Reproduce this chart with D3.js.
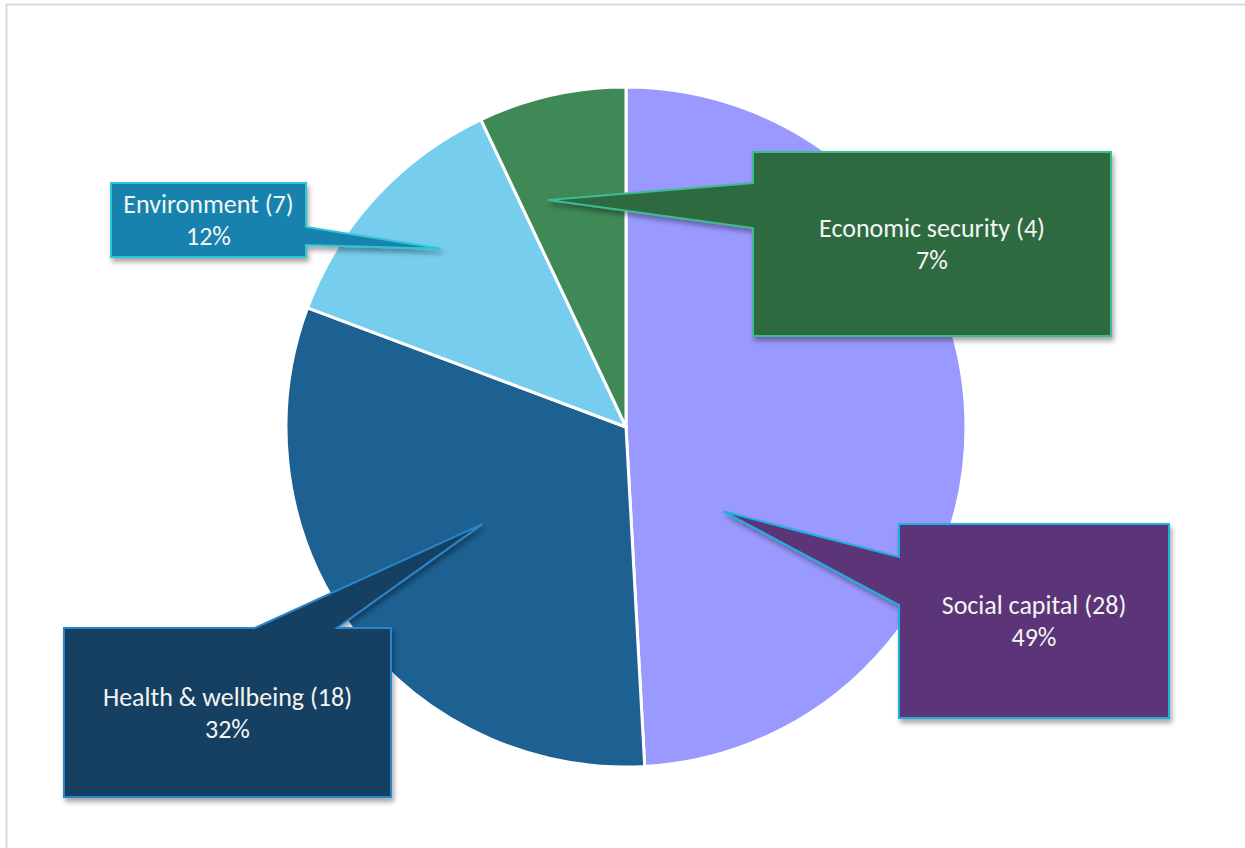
<!DOCTYPE html>
<html>
<head>
<meta charset="utf-8">
<script src="https://cdn.jsdelivr.net/npm/d3@7"></script>
<style>
  html, body { margin: 0; padding: 0; background: #fff; }
  svg { display: block; }
  .label { font-family: Carlito, Calibri, Lato, "Open Sans", sans-serif; font-size: 26px; fill: #f4f4f4; }
</style>
</head>
<body>
<svg id="chart" width="1245" height="848"></svg>
<script>
// Number of initiatives per outcome area
const categories = ["Social capital", "Health & wellbeing", "Environment", "Economic security"];
const counts = [28, 18, 7, 4];

// Slice and callout styling
const sliceFill = ["#9a99ff", "#1d6192", "#77cdee", "#3f8956"];
const boxFill   = ["#5c3579", "#164162", "#1782ad", "#2e6a3f"];
const boxStroke = ["#1fb0e0", "#2a86cc", "#2cc6d4", "#3dbb93"];

// Callout geometry: box edges, which side carries the pointer, where the pointer
// leaves the box, and where it lands inside its slice (fraction of the slice's
// angular span and of the radius).
const callouts = [
  { box: [899, 524, 1169, 718], side: "left",  base: [557, 605], at: 0.74, rad: 0.38 },
  { box: [64, 628, 391, 797],   side: "top",   base: [255, 337], at: 0.52, rad: 0.51 },
  { box: [111, 183, 306, 257],  side: "right", base: [227, 245], at: 0.53, rad: 0.755 },
  { box: [753, 152, 1111, 336], side: "left",  base: [183, 228], at: 0.25, rad: 0.706 }
];

const svg = d3.select("#chart");
const W = 1245, H = 848;
const cx = 626, cy = 427, R = 340;

// drop shadow for the callouts
const defs = svg.append("defs");
const f = defs.append("filter").attr("id", "shadow")
  .attr("x", "-20%").attr("y", "-20%").attr("width", "140%").attr("height", "140%");
f.append("feDropShadow").attr("dx", 2).attr("dy", 4).attr("stdDeviation", 2.5)
  .attr("flood-color", "#000").attr("flood-opacity", 0.35);

// outer frame
svg.append("rect")
  .attr("x", 6.5).attr("y", 4.5).attr("width", W + 10).attr("height", H + 10)
  .attr("fill", "none").attr("stroke", "#d9d9d9").attr("stroke-width", 2);

const total = d3.sum(counts);
const pct = d3.format(".0%");

const pie = d3.pie().sort(null).value(d => d)(counts);
const arc = d3.arc().innerRadius(0).outerRadius(R);

const g = svg.append("g").attr("transform", `translate(${cx},${cy})`);

g.selectAll("path.slice")
  .data(pie)
  .join("path")
  .attr("class", "slice")
  .attr("d", arc)
  .attr("fill", (d, i) => sliceFill[i])
  .attr("stroke", "#fff")
  .attr("stroke-width", 3)
  .attr("stroke-linejoin", "round");

// callout outline: rectangle with a wedge cut into one side
function calloutPath(c, tip) {
  const [x0, y0, x1, y1] = c.box;
  const [b0, b1] = c.base;
  const [tx, ty] = tip;
  let pts;
  if (c.side === "left") {
    pts = [[x0, y0], [x1, y0], [x1, y1], [x0, y1], [x0, b1], [tx, ty], [x0, b0]];
  } else if (c.side === "right") {
    pts = [[x0, y0], [x1, y0], [x1, b0], [tx, ty], [x1, b1], [x1, y1], [x0, y1]];
  } else {
    pts = [[x0, y0], [b0, y0], [tx, ty], [b1, y0], [x1, y0], [x1, y1], [x0, y1]];
  }
  return d3.line()(pts) + "Z";
}

const layer = svg.append("g");

pie.forEach((p, i) => {
  const c = callouts[i];
  const a = p.startAngle + c.at * (p.endAngle - p.startAngle);
  const [px, py] = d3.pointRadial(a, R * c.rad);
  const tip = [cx + px, cy + py];

  layer.append("path")
    .attr("d", calloutPath(c, tip))
    .attr("fill", boxFill[i])
    .attr("stroke", boxStroke[i])
    .attr("stroke-width", 2)
    .attr("stroke-linejoin", "miter")
    .attr("filter", "url(#shadow)");

  const [x0, y0, x1, y1] = c.box;
  const mx = (x0 + x1) / 2, my = (y0 + y1) / 2;
  const t = layer.append("text").attr("class", "label").attr("text-anchor", "middle");
  t.append("tspan").attr("x", mx).attr("y", my - 7)
    .text(`${categories[i]} (${counts[i]})`);
  t.append("tspan").attr("x", mx).attr("y", my + 25)
    .text(pct(counts[i] / total));
});
</script>
</body>
</html>
